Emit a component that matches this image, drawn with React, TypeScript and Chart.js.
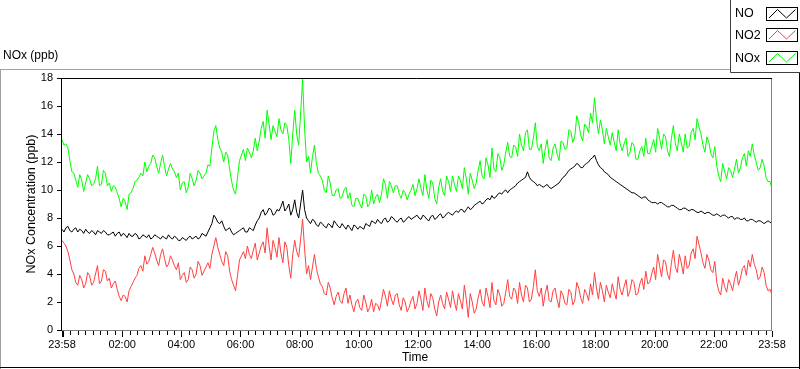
import React, { useEffect, useRef } from "react";
import { Chart, registerables } from "chart.js";

Chart.register(...registerables);

// ---- Data ----
const SERIES_NAMES = ["NO", "NO2", "NOx"];
const SERIES_COLORS = ["#000000", "#ff4040", "#00ff00"];
const UNIT_LABEL = "NOx (ppb)";
const Y_TITLE = "NOx Concentration (ppb)";
const X_TITLE = "Time";
const START_CLOCK_MINUTE = 23 * 60 + 58; // 23:58
const SPAN_MINUTES = 1440;
const SAMPLE_STEP_MINUTES = 4;
const Y_TICKS = [0, 2, 4, 6, 8, 10, 12, 14, 16, 18];
const X_LABEL_TICKS = [0, 122, 242, 362, 482, 602, 722, 842, 962, 1082, 1202, 1322, 1440];

const NO_VALUES = [
  7.2, 7.0, 7.3, 7.4, 7.1, 7.0, 7.2, 7.3, 7.0, 7.2, 7.1, 6.9, 7.2, 7.0, 6.9, 7.1, 7.0, 6.8, 7.1, 7.0,
  6.9, 7.1, 7.0, 6.8, 6.8, 6.9, 7.0, 6.7, 6.9, 7.0, 6.7, 6.9, 6.8, 6.6, 6.9, 6.7, 6.7, 6.9, 6.8, 6.5,
  6.6, 6.8, 6.7, 6.6, 6.8, 6.5, 6.6, 6.8, 6.7, 6.6, 6.5, 6.7, 6.6, 6.5, 6.8, 6.6, 6.5, 6.7, 6.6, 6.4,
  6.4, 6.6, 6.5, 6.4, 6.6, 6.7, 6.5, 6.6, 6.7, 6.5, 6.6, 6.9, 6.8, 6.7, 7.0, 7.3, 7.6, 8.2, 8.0, 7.7,
  7.6, 7.8, 7.4, 7.1, 7.2, 7.3, 7.0, 6.8, 6.9, 7.0, 7.1, 7.2, 7.3, 7.0, 7.0, 7.3, 7.2, 7.1, 7.5, 7.8,
  8.0, 8.4, 8.6, 8.2, 8.4, 8.7, 8.6, 8.2, 8.3, 8.6, 8.5, 8.8, 9.2, 8.5, 8.7, 9.0, 8.2, 8.6, 9.3, 8.4,
  8.0, 9.0, 10.0, 8.6, 8.0, 7.8, 7.6, 7.9, 7.8, 7.5, 7.4, 7.7, 7.6, 7.4, 7.3, 7.6, 7.5, 7.3, 7.8, 7.6,
  7.4, 7.3, 7.6, 7.4, 7.2, 7.5, 7.3, 7.1, 7.5, 7.4, 7.2, 7.4, 7.3, 7.2, 7.6, 7.5, 7.4, 7.8, 7.7, 7.6,
  7.9, 7.7, 7.6, 7.9, 8.0, 7.7, 7.8, 8.1, 8.0, 7.8, 7.7, 7.9, 8.0, 7.7, 7.8, 8.0, 8.1, 7.9, 8.0, 8.1,
  8.2, 8.0, 7.9, 8.2, 8.1, 7.9, 7.8, 8.1, 8.2, 7.9, 8.0, 8.2, 8.3, 8.0, 8.1, 8.3, 8.4, 8.3, 8.2, 8.4,
  8.5, 8.4, 8.6, 8.6, 8.4, 8.6, 8.8, 8.6, 8.7, 8.9, 9.0, 9.1, 9.2, 9.0, 9.1, 9.3, 9.4, 9.3, 9.6, 9.4,
  9.5, 9.7, 9.8, 9.7, 9.9, 10.0, 9.8, 10.0, 10.1, 10.2, 10.3, 10.5, 10.6, 10.7, 10.8, 10.9, 11.3, 10.9, 10.7, 10.6,
  10.5, 10.3, 10.4, 10.3, 10.2, 10.3, 10.4, 10.2, 10.1, 10.2, 10.3, 10.4, 10.5, 10.7, 10.9, 11.0, 11.2, 11.4, 11.5, 11.6,
  11.7, 11.9, 11.8, 11.6, 11.6, 11.8, 11.9, 12.0, 12.2, 12.3, 12.5, 12.1, 11.8, 11.6, 11.5, 11.3, 11.2, 11.1, 10.9, 10.8,
  10.7, 10.6, 10.5, 10.4, 10.3, 10.2, 10.1, 10.0, 9.9, 9.8, 9.8, 9.7, 9.6, 9.5, 9.4, 9.5, 9.5, 9.3, 9.2, 9.1,
  9.1, 9.1, 9.0, 9.1, 9.1, 9.0, 8.9, 8.8, 8.8, 8.9, 8.9, 8.8, 8.7, 8.6, 8.6, 8.7, 8.7, 8.6, 8.5, 8.6,
  8.6, 8.5, 8.4, 8.4, 8.5, 8.4, 8.3, 8.4, 8.4, 8.3, 8.2, 8.2, 8.3, 8.2, 8.1, 8.2, 8.2, 8.1, 8.0, 8.1,
  8.1, 7.9, 8.0, 8.0, 7.9, 7.9, 8.0, 7.8, 7.8, 7.9, 7.9, 7.8, 7.7, 7.8, 7.8, 7.7, 7.6, 7.7, 7.8, 7.7,
  7.6,
];

const NO2_VALUES = [
  6.4, 6.2, 6.0, 5.6, 5.0, 4.3, 4.0, 3.4, 3.2, 3.9, 3.6, 3.0, 3.3, 4.1, 3.9, 3.2, 3.4, 4.0, 4.6, 3.3,
  3.5, 4.3, 4.2, 3.5, 3.7, 3.0, 3.3, 3.5, 2.9, 2.4, 2.1, 2.5, 2.4, 2.0, 2.8, 3.1, 3.4, 3.7, 3.9, 4.4,
  4.6, 4.2, 5.3, 4.7, 4.9, 5.4, 5.9, 5.5, 5.0, 4.6, 5.4, 5.8, 5.1, 4.5, 4.7, 5.3, 5.0, 4.6, 4.3, 4.8,
  3.6, 3.9, 4.1, 3.4, 3.6, 4.5, 4.3, 3.7, 4.0, 4.9, 4.6, 3.9, 4.2, 4.5, 4.8, 4.4, 5.4, 6.0, 6.6, 5.9,
  5.4, 4.9, 4.6, 5.6, 5.3, 4.2, 3.6, 3.2, 2.8, 3.9, 5.0, 5.3, 5.6, 5.1, 6.0, 5.4, 5.1, 5.7, 6.2, 5.0,
  5.5, 6.0, 6.3, 5.5, 7.3, 6.0, 5.0, 6.4, 5.9, 5.2, 6.6, 5.5, 4.8, 6.3, 5.9, 4.6, 3.7, 5.4, 6.4, 5.6,
  5.2, 6.5, 7.9, 5.8, 4.0, 4.6, 3.6, 4.5, 5.4, 4.4, 3.8, 3.3, 3.1, 2.6, 2.5, 3.4, 3.0, 2.3, 1.8, 2.4,
  2.7, 2.1, 1.9, 2.6, 3.0, 1.9, 2.5, 1.8, 1.3, 2.0, 2.2, 1.6, 1.4, 2.5, 2.0, 1.3, 1.6, 2.2, 1.3, 1.9,
  1.8, 1.4, 2.1, 2.9, 2.4, 1.7, 2.8, 2.2, 1.8, 2.5, 2.6, 1.8, 1.4, 2.3, 2.0, 1.3, 1.6, 2.1, 2.4, 1.5,
  1.9, 2.8, 2.2, 1.4, 3.0, 2.1, 1.6, 2.6, 2.3, 1.5, 1.0, 2.0, 2.5, 1.9, 1.5, 2.7, 2.2, 1.6, 2.8, 2.0,
  1.4, 2.6, 2.1, 1.5, 3.2, 2.2, 0.9, 2.6, 2.0, 1.2, 1.5, 2.3, 2.9, 2.0, 1.7, 3.0, 2.4, 1.6, 3.4, 2.1,
  1.8, 2.9, 2.5, 1.7, 1.9, 2.7, 3.6, 2.4, 2.2, 3.0, 2.8, 1.9, 3.4, 2.5, 2.0, 3.2, 3.0, 2.0, 2.2, 3.1,
  4.3, 2.8, 2.4, 3.0, 1.7, 2.6, 3.2, 2.1, 2.0, 2.8, 3.0, 2.2, 1.6, 2.8, 2.5, 1.9, 1.8, 2.9, 2.7, 1.8,
  2.1, 3.4, 3.0, 2.3, 1.9, 2.9, 2.6, 2.1, 3.3, 2.5, 4.1, 3.0, 2.2, 3.4, 2.8, 2.0, 3.2, 2.7, 2.3, 3.3,
  2.7, 2.2, 3.8, 2.9, 2.5, 3.1, 3.6, 2.4, 2.8, 3.6, 3.4, 2.5, 2.6, 3.3, 3.7, 2.9, 4.2, 3.3, 3.4, 4.0,
  4.5, 3.6, 5.4, 4.6, 3.8, 5.0, 4.9, 4.0, 3.6, 4.8, 5.7, 4.5, 4.1, 5.4, 4.8, 4.0, 5.3, 4.4, 4.6, 5.5,
  5.8, 5.1, 6.7, 6.1, 5.5, 4.8, 4.4, 5.4, 5.0, 4.3, 4.1, 4.9, 3.4, 2.8, 2.5, 3.7, 3.1, 2.7, 3.6, 3.3,
  2.8, 3.6, 4.2, 3.2, 3.7, 4.4, 4.6, 3.9, 5.0, 4.5, 5.4, 4.7, 4.3, 3.6, 3.8, 4.5, 4.1, 3.2, 2.8, 2.9,
  2.5,
];

const NOX_VALUES = [
  13.6, 13.2, 13.3, 13.0, 12.1, 11.3, 11.2, 10.7, 10.2, 11.1, 10.7, 9.9, 10.5, 11.1, 10.8, 10.3, 10.4, 10.8, 11.7, 10.3,
  10.4, 11.4, 11.2, 10.3, 10.5, 9.9, 10.3, 10.2, 9.8, 9.4, 8.8, 9.4, 9.2, 8.6, 9.7, 9.8, 10.1, 10.6, 10.7, 10.9,
  11.2, 11.0, 12.0, 11.3, 11.7, 11.9, 12.5, 12.3, 11.7, 11.2, 11.9, 12.5, 11.7, 11.0, 11.5, 11.9, 11.5, 11.3, 10.9, 11.2,
  10.0, 10.5, 10.6, 9.8, 10.2, 11.2, 10.8, 10.3, 10.7, 11.4, 11.2, 10.8, 11.0, 11.2, 11.8, 11.7, 13.0, 14.2, 14.6, 13.6,
  13.0, 12.7, 12.0, 12.7, 12.5, 11.5, 10.6, 10.0, 9.7, 10.9, 12.1, 12.5, 12.9, 12.1, 13.0, 12.7, 12.3, 12.8, 13.7, 12.8,
  13.5, 14.4, 14.9, 13.7, 15.7, 14.7, 13.6, 14.6, 14.2, 13.8, 15.1, 14.3, 14.0, 14.8, 14.6, 13.6, 11.9, 14.0, 15.7, 14.0,
  13.2, 15.5, 17.9, 14.4, 12.0, 12.4, 11.2, 12.4, 13.2, 11.9, 11.2, 11.0, 10.7, 10.0, 9.8, 11.0, 10.5, 9.6, 9.6, 10.0,
  10.1, 9.4, 9.5, 10.0, 10.2, 9.4, 9.8, 8.9, 8.8, 9.4, 9.4, 9.0, 8.7, 9.7, 9.6, 8.8, 9.0, 10.0, 9.0, 9.5,
  9.7, 9.1, 9.7, 10.8, 10.4, 9.4, 10.6, 10.3, 9.8, 10.3, 10.3, 9.7, 9.4, 10.0, 9.8, 9.3, 9.7, 10.0, 10.4, 9.6,
  10.1, 10.8, 10.1, 9.6, 11.1, 10.0, 9.4, 10.7, 10.5, 9.4, 9.0, 10.2, 10.8, 9.9, 9.6, 11.0, 10.6, 9.9, 11.0, 10.4,
  9.9, 11.0, 10.7, 10.1, 11.6, 10.8, 9.7, 11.2, 10.7, 10.1, 10.5, 11.4, 12.1, 11.0, 10.8, 12.3, 11.8, 10.9, 13.0, 11.5,
  11.3, 12.6, 12.3, 11.4, 11.8, 12.7, 13.4, 12.4, 12.3, 13.2, 13.1, 12.4, 14.0, 13.2, 12.8, 14.1, 14.3, 12.9, 12.9, 13.7,
  14.8, 13.1, 12.8, 13.3, 11.9, 12.9, 13.6, 12.3, 12.1, 13.0, 13.3, 12.6, 12.1, 13.5, 13.4, 12.9, 13.0, 14.3, 14.2, 13.4,
  13.8, 15.3, 14.8, 13.9, 13.5, 14.7, 14.5, 14.1, 15.5, 14.8, 16.6, 15.1, 14.0, 15.0, 14.3, 13.3, 14.4, 13.8, 13.2, 14.1,
  13.4, 12.8, 14.3, 13.3, 12.8, 13.3, 13.7, 12.4, 12.7, 13.4, 13.2, 12.2, 12.2, 12.8, 13.1, 12.4, 13.7, 12.6, 12.6, 13.1,
  13.6, 12.7, 14.4, 13.7, 12.9, 14.0, 13.8, 12.8, 12.4, 13.7, 14.6, 13.3, 12.8, 14.0, 13.4, 12.7, 14.0, 13.0, 13.1, 14.1,
  14.4, 13.6, 15.1, 14.5, 14.0, 13.2, 12.7, 13.8, 13.4, 12.6, 12.3, 13.1, 11.7, 11.0, 10.6, 11.9, 11.3, 10.8, 11.6, 11.4,
  10.9, 11.5, 12.2, 11.2, 11.6, 12.3, 12.6, 11.7, 12.8, 12.4, 13.3, 12.5, 12.0, 11.4, 11.6, 12.2, 11.7, 10.9, 10.6, 10.6,
  10.1,
];

const SERIES_VALUES = [NO_VALUES, NO2_VALUES, NOX_VALUES];

// ---- Layout constants ----
const W = 800;
const H = 369;
const PLOT_LEFT = 62;
const PLOT_TOP = 78;
const PLOT_RIGHT = 772;
const PLOT_BOTTOM = 330;
const TICK_FONT = "Liberation Sans";

function clockLabel(v: number): string {
  const m = (START_CLOCK_MINUTE + Math.round(v)) % 1440;
  const hh = Math.floor(m / 60);
  const mm = m % 60;
  return String(hh).padStart(2, "0") + ":" + String(mm).padStart(2, "0");
}

const decorPlugin = {
  id: "labviewDecor",
  beforeDraw(chart: any) {
    const ctx = chart.ctx;
    ctx.save();
    ctx.fillStyle = "#ffffff";
    ctx.fillRect(0, 0, W, H);
    ctx.restore();
  },
  afterDraw(chart: any) {
    const ctx: CanvasRenderingContext2D = chart.ctx;
    const xs = chart.scales.x;
    const ys = chart.scales.y;
    const ca = chart.chartArea;
    ctx.save();

    // outer panel frame
    ctx.lineWidth = 1;
    ctx.strokeStyle = "#a0a0a0";
    ctx.beginPath();
    ctx.moveTo(0, 69.5);
    ctx.lineTo(730, 69.5);
    ctx.moveTo(0.5, 69);
    ctx.lineTo(0.5, H);
    ctx.stroke();
    ctx.strokeStyle = "#000000";
    ctx.beginPath();
    ctx.moveTo(0, H - 1.5);
    ctx.lineTo(W, H - 1.5);
    ctx.moveTo(W - 0.5, 72);
    ctx.lineTo(W - 0.5, H);
    ctx.stroke();

    // plot frame
    ctx.strokeStyle = "#000000";
    ctx.beginPath();
    ctx.moveTo(ca.left - 0.5, ca.top + 0.5);
    ctx.lineTo(ca.right, ca.top + 0.5);
    ctx.moveTo(ca.left - 0.5, ca.top);
    ctx.lineTo(ca.left - 0.5, ca.bottom + 1);
    ctx.stroke();
    ctx.strokeStyle = "#808080";
    ctx.beginPath();
    ctx.moveTo(ca.right - 0.5, ca.top + 1);
    ctx.lineTo(ca.right - 0.5, ca.bottom + 1);
    ctx.moveTo(ca.left, ca.bottom + 0.5);
    ctx.lineTo(ca.right, ca.bottom + 0.5);
    ctx.stroke();

    // y tick marks
    ctx.strokeStyle = "#000000";
    ctx.beginPath();
    for (const v of Y_TICKS) {
      const y = Math.round(ys.getPixelForValue(v)) + 0.5;
      ctx.moveTo(ca.left - 5, y);
      ctx.lineTo(ca.left, y);
    }
    ctx.stroke();

    // x tick marks (minor every 15 min of the clock, major at labels)
    ctx.beginPath();
    const majors = new Set(X_LABEL_TICKS.concat([2]));
    for (let t = 2; t <= SPAN_MINUTES; t += 15) {
      if (majors.has(t)) continue;
      const x = Math.round(xs.getPixelForValue(t)) + 0.5;
      ctx.moveTo(x, ca.bottom + 1);
      ctx.lineTo(x, ca.bottom + 5);
    }
    majors.forEach((t) => {
      const x = Math.round(xs.getPixelForValue(t)) + 0.5;
      ctx.moveTo(x, ca.bottom + 1);
      ctx.lineTo(x, ca.bottom + 7);
    });
    ctx.stroke();

    // titles
    ctx.fillStyle = "#000000";
    ctx.textBaseline = "middle";
    ctx.font = "12px '" + TICK_FONT + "'";
    ctx.textAlign = "left";
    ctx.fillText(UNIT_LABEL, 3, 56);
    ctx.textAlign = "center";
    ctx.fillText(X_TITLE, (ca.left + ca.right) / 2 - 2, 358);
    ctx.save();
    ctx.translate(32, (ca.top + ca.bottom) / 2);
    ctx.rotate(-Math.PI / 2);
    ctx.font = "12.5px '" + TICK_FONT + "'";
    ctx.fillText(Y_TITLE, 0, 0);
    ctx.restore();

    // legend box
    ctx.fillStyle = "#ffffff";
    ctx.fillRect(731, 0, W - 731, 72);
    ctx.strokeStyle = "#404040";
    ctx.beginPath();
    ctx.moveTo(730.5, 0);
    ctx.lineTo(730.5, 72.5);
    ctx.lineTo(W, 72.5);
    ctx.stroke();
    const rowsY = [7.5, 28.5, 51.5];
    const textY = [14, 36, 59];
    ctx.font = "12.5px '" + TICK_FONT + "'";
    ctx.textAlign = "left";
    ctx.textBaseline = "middle";
    SERIES_NAMES.forEach((name, i) => {
      ctx.fillStyle = "#000000";
      ctx.fillText(name, 735, textY[i]);
      const bx = 766.5;
      const by = rowsY[i];
      const bw = 31;
      const bh = 13;
      ctx.strokeStyle = "#000000";
      ctx.lineWidth = 1;
      ctx.strokeRect(bx, by, bw, bh);
      ctx.strokeStyle = SERIES_COLORS[i];
      ctx.beginPath();
      ctx.moveTo(bx + 2.5, by + bh - 2.5);
      ctx.lineTo(bx + 11, by + 2);
      ctx.lineTo(bx + 20, by + bh - 2.5);
      ctx.lineTo(bx + 29, by + 2);
      ctx.stroke();
    });

    ctx.restore();
  },
};

export default function App() {
  const canvasRef = useRef<HTMLCanvasElement | null>(null);

  useEffect(() => {
    const canvas = canvasRef.current;
    if (!canvas) return;
    const datasets = SERIES_NAMES.map((name, s) => ({
      label: name,
      data: SERIES_VALUES[s].map((v, i) => ({ x: i * SAMPLE_STEP_MINUTES, y: v })),
      borderColor: SERIES_COLORS[s],
      backgroundColor: SERIES_COLORS[s],
      borderWidth: 1,
      pointRadius: 0,
      tension: 0,
      fill: false,
      order: SERIES_NAMES.length - s,
    }));

    const chart = new Chart(canvas, {
      type: "line",
      data: { datasets },
      options: {
        animation: false,
        responsive: false,
        devicePixelRatio: 1,
        events: [],
        layout: { padding: { left: 0, top: PLOT_TOP, right: W - PLOT_RIGHT, bottom: 0 } },
        plugins: {
          legend: { display: false },
          tooltip: { enabled: false },
          title: { display: false },
        },
        scales: {
          x: {
            type: "linear",
            min: 0,
            max: SPAN_MINUTES,
            border: { display: false },
            grid: { display: false, drawTicks: false },
            afterBuildTicks: (scale: any) => {
              scale.ticks = X_LABEL_TICKS.map((v) => ({ value: v }));
            },
            afterFit: (scale: any) => {
              scale.height = H - PLOT_BOTTOM;
            },
            ticks: {
              autoSkip: false,
              maxRotation: 0,
              minRotation: 0,
              padding: 8,
              color: "#000000",
              font: { family: TICK_FONT, size: 11 },
              callback: (v: any) => clockLabel(Number(v)),
            },
          },
          y: {
            type: "linear",
            min: 0,
            max: 18,
            border: { display: false },
            grid: { display: false, drawTicks: false },
            afterBuildTicks: (scale: any) => {
              scale.ticks = Y_TICKS.map((v) => ({ value: v }));
            },
            afterFit: (scale: any) => {
              scale.width = PLOT_LEFT;
            },
            ticks: {
              padding: 9,
              color: "#000000",
              font: { family: TICK_FONT, size: 11 },
              callback: (v: any) => String(v),
            },
          },
        },
      },
      plugins: [decorPlugin],
    } as any);

    return () => chart.destroy();
  }, []);

  return (
    <div style={{ position: "fixed", left: 0, top: 0, width: W, height: H, background: "#fff" }}>
      <canvas ref={canvasRef} width={W} height={H} style={{ display: "block", width: W, height: H }} />
    </div>
  );
}
